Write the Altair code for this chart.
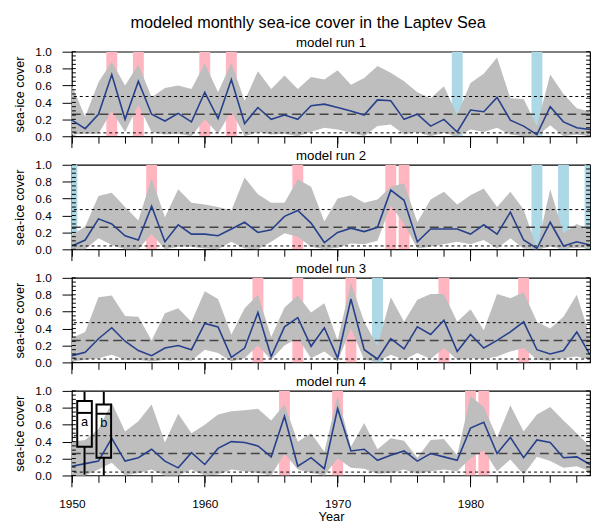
import altair as alt
import pandas as pd

YEARS = list(range(1950, 1990))
RUN_TITLES = ["model run 1", "model run 2", "model run 3", "model run 4"]
MAIN_TITLE = "modeled monthly sea-ice cover in the Laptev Sea"

MEAN_1 = [0.19, 0.09, 0.26, 0.73, 0.20, 0.65, 0.26, 0.18, 0.27, 0.17,
          0.52, 0.21, 0.67, 0.15, 0.34, 0.20, 0.25, 0.20, 0.36, 0.38,
          0.34, 0.30, 0.25, 0.43, 0.42, 0.20, 0.26, 0.12, 0.20, 0.05,
          0.31, 0.29, 0.46, 0.19, 0.12, 0.02, 0.35, 0.17, 0.10, 0.08]
HIGH_1 = [0.60, 0.23, 0.64, 0.88, 0.60, 0.85, 0.46, 0.57, 0.60, 0.56,
          0.86, 0.52, 0.87, 0.42, 0.77, 0.56, 0.72, 0.56, 0.70, 0.67,
          0.78, 0.61, 0.69, 0.83, 0.75, 0.65, 0.52, 0.45, 0.59, 0.25,
          0.63, 0.74, 0.93, 0.45, 0.44, 0.12, 0.73, 0.50, 0.33, 0.29]
LOW_1 = [0.02, 0.03, 0.03, 0.30, 0.05, 0.37, 0.05, 0.02, 0.03, 0.00,
         0.20, 0.03, 0.30, 0.00, 0.05, 0.02, 0.03, 0.00, 0.05, 0.10,
         0.08, 0.04, 0.00, 0.12, 0.14, 0.02, 0.05, 0.00, 0.04, 0.00,
         0.08, 0.05, 0.10, 0.02, 0.00, 0.00, 0.13, 0.00, 0.02, 0.00]

MEAN_2 = [0.04, 0.11, 0.36, 0.30, 0.16, 0.11, 0.51, 0.09, 0.29, 0.18,
          0.18, 0.16, 0.24, 0.32, 0.20, 0.23, 0.39, 0.46, 0.31, 0.08,
          0.20, 0.25, 0.21, 0.26, 0.70, 0.58, 0.09, 0.24, 0.24, 0.24,
          0.18, 0.29, 0.18, 0.44, 0.11, 0.01, 0.32, 0.04, 0.09, 0.05]
HIGH_2 = [0.17, 0.27, 0.63, 0.67, 0.50, 0.34, 0.84, 0.38, 0.71, 0.55,
          0.53, 0.50, 0.46, 0.85, 0.65, 0.55, 0.55, 0.83, 0.74, 0.33,
          0.60, 0.64, 0.55, 0.59, 0.74, 0.78, 0.32, 0.59, 0.68, 0.53,
          0.64, 0.72, 0.50, 0.68, 0.47, 0.01, 0.71, 0.19, 0.30, 0.23]
LOW_2 = [0.00, 0.00, 0.13, 0.05, 0.00, 0.00, 0.18, 0.00, 0.03, 0.03,
         0.01, 0.00, 0.09, 0.01, 0.00, 0.09, 0.19, 0.15, 0.03, 0.00,
         0.02, 0.07, 0.06, 0.10, 0.52, 0.30, 0.01, 0.03, 0.06, 0.09,
         0.06, 0.11, 0.01, 0.13, 0.01, 0.00, 0.03, 0.01, 0.02, 0.02]

MEAN_3 = [0.08, 0.12, 0.28, 0.41, 0.25, 0.14, 0.08, 0.17, 0.20, 0.15,
          0.46, 0.42, 0.06, 0.17, 0.59, 0.07, 0.42, 0.53, 0.19, 0.41,
          0.05, 0.75, 0.15, 0.04, 0.28, 0.16, 0.42, 0.33, 0.50, 0.13,
          0.33, 0.17, 0.26, 0.36, 0.48, 0.15, 0.10, 0.14, 0.36, 0.09]
HIGH_3 = [0.29, 0.36, 0.77, 0.79, 0.55, 0.54, 0.26, 0.58, 0.64, 0.48,
          0.84, 0.75, 0.33, 0.64, 0.80, 0.30, 0.65, 0.79, 0.59, 0.70,
          0.26, 0.94, 0.48, 0.19, 0.77, 0.48, 0.74, 0.81, 0.81, 0.48,
          0.63, 0.38, 0.81, 0.76, 0.83, 0.48, 0.40, 0.54, 0.80, 0.30]
LOW_3 = [0.01, 0.03, 0.05, 0.09, 0.03, 0.03, 0.01, 0.03, 0.03, 0.02,
         0.15, 0.11, 0.01, 0.05, 0.20, 0.03, 0.20, 0.29, 0.05, 0.13,
         0.01, 0.40, 0.03, 0.01, 0.09, 0.03, 0.11, 0.04, 0.17, 0.03,
         0.05, 0.04, 0.07, 0.13, 0.17, 0.03, 0.02, 0.05, 0.07, 0.03]

MEAN_4 = [0.11, 0.14, 0.17, 0.44, 0.17, 0.21, 0.31, 0.17, 0.09, 0.27,
          0.13, 0.32, 0.40, 0.39, 0.35, 0.22, 0.70, 0.11, 0.21, 0.08,
          0.79, 0.29, 0.31, 0.18, 0.24, 0.29, 0.17, 0.26, 0.22, 0.18,
          0.56, 0.63, 0.26, 0.45, 0.21, 0.42, 0.39, 0.21, 0.22, 0.13]
HIGH_4 = [0.40, 0.42, 0.55, 0.86, 0.52, 0.64, 0.84, 0.39, 0.73, 0.50,
          0.60, 0.72, 0.76, 0.77, 0.79, 0.65, 0.84, 0.40, 0.50, 0.28,
          0.94, 0.34, 0.62, 0.31, 0.44, 0.41, 0.21, 0.42, 0.43, 0.24,
          0.94, 0.81, 0.45, 0.83, 0.52, 0.72, 0.81, 0.65, 0.50, 0.34]
LOW_4 = [0.00, 0.00, 0.07, 0.15, 0.00, 0.03, 0.07, 0.00, 0.00, 0.07,
         0.00, 0.01, 0.07, 0.05, 0.03, 0.00, 0.26, 0.07, 0.03, 0.00,
         0.20, 0.09, 0.08, 0.02, 0.03, 0.07, 0.02, 0.05, 0.07, 0.05,
         0.20, 0.30, 0.05, 0.19, 0.01, 0.22, 0.17, 0.09, 0.11, 0.05]

PINK_1 = [1953, 1955, 1960, 1962]
BLUE_1 = [1979, 1985]
PINK_2 = [1956, 1967, 1974, 1975]
BLUE_2 = [1950, 1985, 1987, 1989]
PINK_3 = [1964, 1967, 1971, 1978, 1984]
BLUE_3 = [1973]
PINK_4 = [1966, 1970, 1980, 1981]
BLUE_4 = []

HLINE_VALUES = [0.47, 0.26, 0.04]
HLINE_KINDS = ["dotted", "dashed", "dotted"]

BOX_CENTERS = [1950.95, 1952.4]
BOX_LABELS = ["a", "b"]
BOX_WLOW = [0.01, 0.0]
BOX_Q1 = [0.34, 0.21]
BOX_MED = [0.74, 0.73]
BOX_Q3 = [0.88, 0.84]
BOX_WHIGH = [0.99, 0.99]

Y_MAJOR = [0.0, 0.2, 0.4, 0.6, 0.8, 1.0]
Y_MINOR = [0.05, 0.1, 0.15, 0.25, 0.3, 0.35, 0.45, 0.5, 0.55,
           0.65, 0.7, 0.75, 0.85, 0.9, 0.95]
X_MINOR = list(range(1950, 1990, 2))
X_MAJOR = [1950, 1960, 1970, 1980]

MEANS = [MEAN_1, MEAN_2, MEAN_3, MEAN_4]
HIGHS = [HIGH_1, HIGH_2, HIGH_3, HIGH_4]
LOWS = [LOW_1, LOW_2, LOW_3, LOW_4]
PINKS = [PINK_1, PINK_2, PINK_3, PINK_4]
BLUES = [BLUE_1, BLUE_2, BLUE_3, BLUE_4]

W = 527
H = 86
FONT = "Liberation Sans"

xscale = alt.Scale(domain=[1950, 1989], nice=False, zero=False)
yscale = alt.Scale(domain=[0, 1], nice=False, zero=False)


def panel(i, bottom):
    df = pd.DataFrame({"year": YEARS, "mean": MEANS[i], "lo": LOWS[i], "hi": HIGHS[i]})
    bars = pd.DataFrame({
        "year": PINKS[i] + BLUES[i],
        "kind": ["pink"] * len(PINKS[i]) + ["blue"] * len(BLUES[i]),
    })
    hl = pd.DataFrame({"v": HLINE_VALUES, "kind": HLINE_KINDS})

    xaxis = alt.Axis(
        values=X_MINOR, tickSize=7, domain=False, grid=False, tickColor="black",
        labels=bottom, labelExpr="datum.value % 10 == 0 ? format(datum.value, 'd') : ''",
        labelFlush=False, labelOverlap=False,
        labelFontSize=12, labelPadding=17, labelColor="black", labelFont=FONT,
        title="Year" if bottom else "", titleFontSize=13, titleFontWeight="normal",
        titleFont=FONT, titlePadding=1, titleColor="black",
    )
    yaxis = alt.Axis(
        values=Y_MAJOR, format=".1f", tickSize=10, domain=False, grid=False,
        tickColor="black", labelFontSize=12, labelPadding=11, labelColor="black",
        labelFont=FONT, labelFlush=False, title="sea-ice cover", titleFontSize=13,
        titleFontWeight="normal", titleFont=FONT, titlePadding=9, titleColor="black",
    )

    def X(field):
        return alt.X(field, scale=xscale, axis=xaxis)

    def Y(field):
        return alt.Y(field, scale=yscale, axis=yaxis)

    layers = []
    if len(bars):
        layers.append(
            alt.Chart(bars).transform_calculate(
                x0="datum.year - 0.41", x1="datum.year + 0.41"
            ).mark_rect(clip=True).encode(
                x=X("x0:Q"),
                x2="x1:Q",
                y=alt.value(0),
                y2=alt.value(H),
                color=alt.Color("kind:N", scale=alt.Scale(domain=["pink", "blue"],
                                range=["#FFB6C1", "#ADD8E6"]), legend=None),
            )
        )
    layers.append(
        alt.Chart(df).mark_area(color="#BEBEBE", opacity=1).encode(
            x=X("year:Q"), y=Y("lo:Q"), y2="hi:Q",
        )
    )
    layers.append(
        alt.Chart(hl).transform_filter("datum.kind == 'dotted'").mark_rule(
            color="black", strokeWidth=1, strokeDash=[3, 3]
        ).encode(y=Y("v:Q"))
    )
    layers.append(
        alt.Chart(hl).transform_filter("datum.kind == 'dashed'").mark_rule(
            color="#444444", strokeWidth=1.5, strokeDash=[9, 5]
        ).encode(y=Y("v:Q"))
    )
    layers.append(
        alt.Chart(df).mark_line(color="#27408B", strokeWidth=1.6).encode(
            x=X("year:Q"), y=Y("mean:Q"),
        )
    )
    if i == 3:
        box = pd.DataFrame({
            "c": BOX_CENTERS, "label": BOX_LABELS, "wlo": BOX_WLOW, "q1": BOX_Q1,
            "med": BOX_MED, "q3": BOX_Q3, "whi": BOX_WHIGH,
        })
        base = alt.Chart(box).transform_calculate(x0="datum.c - 0.55", x1="datum.c + 0.55")
        layers.append(base.mark_rule(color="black", strokeWidth=2).encode(
            x=X("c:Q"), y=Y("wlo:Q"), y2="q1:Q"))
        layers.append(base.mark_rule(color="black", strokeWidth=2).encode(
            x=X("c:Q"), y=Y("q3:Q"), y2="whi:Q"))
        layers.append(base.mark_rect(fillOpacity=0, stroke="black", strokeWidth=2).encode(
            x=X("x0:Q"), x2="x1:Q", y=Y("q1:Q"), y2="q3:Q"))
        layers.append(base.mark_rule(color="black", strokeWidth=2).encode(
            x=X("x0:Q"), x2="x1:Q", y=Y("med:Q")))
        layers.append(base.mark_text(fontSize=13, font=FONT, baseline="top", dy=3,
                                     color="black").encode(
            x=X("c:Q"), y=Y("med:Q"), text="label:N"))
    # decade (major) ticks below the frame
    layers.append(
        alt.Chart(pd.DataFrame({"year": X_MAJOR})).mark_rule(color="black", strokeWidth=1).encode(
            x=X("year:Q"), y=alt.value(H), y2=alt.value(H + 12),
        )
    )
    # inward minor ticks, left and right
    ym = pd.DataFrame({"v": Y_MINOR + Y_MAJOR})
    layers.append(
        alt.Chart(ym).mark_rule(color="black", strokeWidth=1).encode(
            y=Y("v:Q"), x=alt.value(0), x2=alt.value(4))
    )
    layers.append(
        alt.Chart(ym).mark_rule(color="black", strokeWidth=1).encode(
            y=Y("v:Q"), x=alt.value(W - 4), x2=alt.value(W))
    )
    return alt.layer(*layers).properties(
        width=W, height=H,
        title=alt.TitleParams(RUN_TITLES[i], fontSize=13.5, fontWeight="normal", font=FONT,
                              frame="group", anchor="middle", offset=-4, color="black"),
    )


panels = [panel(k, k == 3) for k in range(4)]
chart = alt.vconcat(*panels, spacing=29, bounds="flush").properties(
    title=alt.TitleParams(MAIN_TITLE, fontSize=16.5, fontWeight="normal", font=FONT,
                          anchor="middle", offset=5, dx=5, color="black"),
    padding={"left": 4, "top": 2, "right": 0, "bottom": 0},
).configure_view(stroke="black", strokeWidth=1.2)

chart.save("out.html", embed_options={"renderer": "svg", "actions": False})
